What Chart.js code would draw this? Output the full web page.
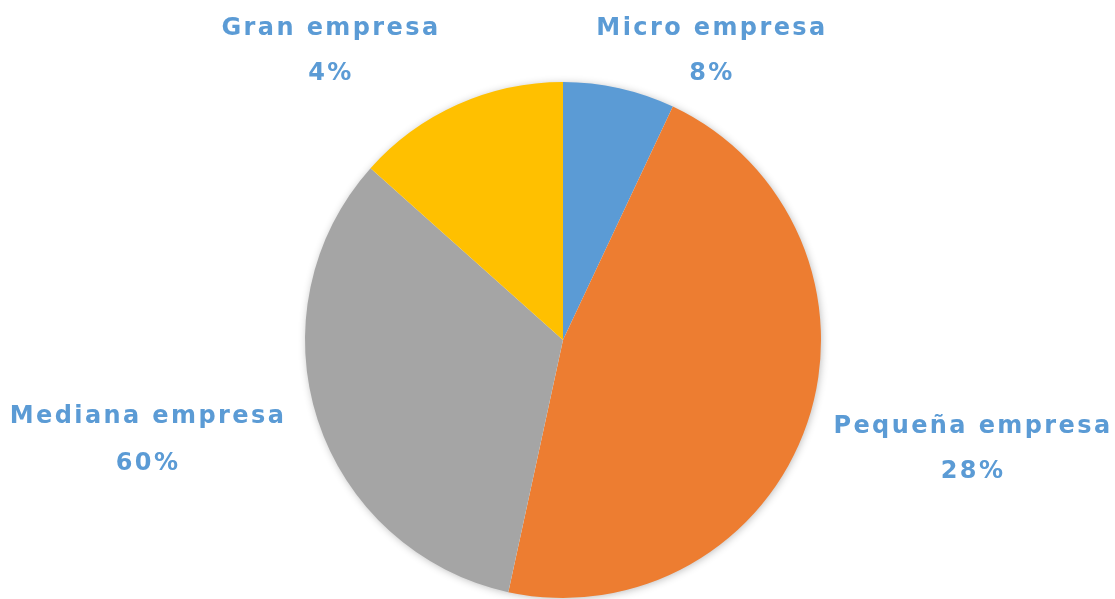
<!DOCTYPE html>
<html>
<head>
<meta charset="utf-8">
<script src="https://cdn.jsdelivr.net/npm/chart.js@4"></script>
<style>
  html, body { margin: 0; padding: 0; background: #fff; }
  #wrap { width: 1115px; height: 599px; position: relative; }
</style>
</head>
<body>
<div id="wrap"><canvas id="pieChart"></canvas></div>
<script>
// datos
const categorias = ['Micro empresa', 'Pequeña empresa', 'Mediana empresa', 'Gran empresa'];
const valores = [7, 46.4, 33.2, 13.4];          // tamaño de cada porcion
const etiquetasPct = ['8%', '28%', '60%', '4%']; // texto mostrado en la imagen
const colores = ['#5b9bd5', '#ed7d31', '#a5a5a5', '#ffc000'];

// posicion de las etiquetas (centro de cada linea)
const posEtiquetas = [
    { x: 712, y1: 29, y2: 74 },
    { x: 973, y1: 427, y2: 472 },
    { x: 148, y1: 417, y2: 464 },
    { x: 331, y1: 29, y2: 74 }
];

const sombraPie = {
    id: 'sombraPie',
    beforeDatasetsDraw(chart) {
        const arc = chart.getDatasetMeta(0).data[0];
        if (!arc) return;
        const c = chart.ctx;
        c.save();
        c.shadowColor = 'rgba(0,0,0,0.3)';
        c.shadowBlur = 8;
        c.shadowOffsetX = 1;
        c.shadowOffsetY = 1;
        c.fillStyle = '#ffffff';
        c.beginPath();
        c.arc(arc.x, arc.y, arc.outerRadius - 1, 0, Math.PI * 2);
        c.fill();
        c.restore();
    }
};

const etiquetas = {
    id: 'etiquetas',
    afterDraw(chart) {
        const c = chart.ctx;
        c.save();
        c.fillStyle = '#5b9bd5';
        c.font = 'bold 24px "DejaVu Sans"';
        c.letterSpacing = '2.4px';
        c.textAlign = 'center';
        c.textBaseline = 'middle';
        categorias.forEach((cat, i) => {
            const p = posEtiquetas[i];
            c.fillText(cat, p.x, p.y1);
            c.fillText(etiquetasPct[i], p.x, p.y2);
        });
        c.restore();
    }
};

new Chart(document.getElementById('pieChart'), {
    type: 'pie',
    data: {
        labels: categorias,
        datasets: [{
            data: valores,
            backgroundColor: colores,
            borderWidth: 0
        }]
    },
    options: {
        responsive: true,
        maintainAspectRatio: false,
        animation: false,
        layout: { padding: { top: 82, bottom: 1, left: 11, right: 0 } },
        plugins: {
            legend: { display: false },
            tooltip: { enabled: false }
        }
    },
    plugins: [sombraPie, etiquetas]
});
</script>
</body>
</html>
